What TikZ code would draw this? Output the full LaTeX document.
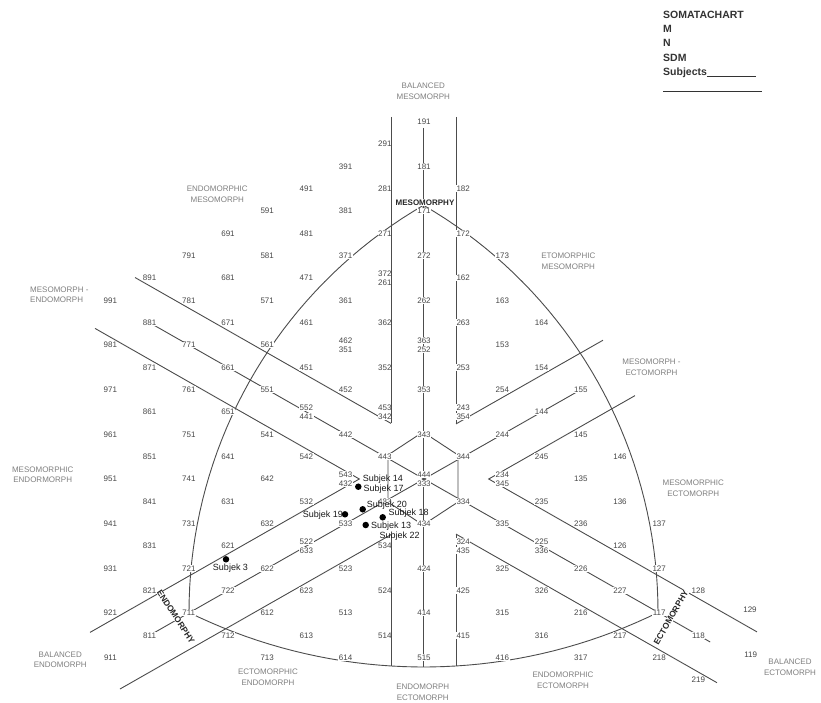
\documentclass[tikz,border=0pt]{standalone}
\usepackage{fontspec}
\setmainfont{Liberation Sans}

\tikzset{
  rating/.style={fill=white, inner sep=0.5pt, text=black!72, font=\fontsize{8}{9}\selectfont},
  cat/.style={align=center, inner sep=0pt, text=black!50, font=\fontsize{8}{10.6}\selectfont},
  morphy/.style={fill=white, inner sep=0.4pt, text=black!85, font=\fontsize{8.5}{9}\selectfont\bfseries},
  subj/.style={inner sep=0pt, text=black!90, font=\fontsize{9}{10}\selectfont},
  subjdot/.style={circle, fill=black, inner sep=0pt, minimum size=6.5pt},
  bandline/.style={line width=0.9pt, draw=black!70},
}

\begin{document}
\begin{tikzpicture}[x=1pt, y=-1pt]
\fill[white] (0,0) rectangle (821,703);
\useasboundingbox (0,0) rectangle (821,703);

% legend
\node[anchor=north west, inner sep=0pt, align=left, text=black!80, font=\fontsize{10.5}{14.2}\selectfont\bfseries] (legend) at (663,11) {SOMATACHART\\M\\N\\SDM\\Subjects\rule[-1.8pt]{49pt}{0.9pt}};
\draw[line width=0.9pt, black!80] (663,91) -- (762,91);

% corners where the bands meet
\coordinate (vtl) at (391,423.4);
\coordinate (vtr) at (456,423.9);
\coordinate (vl) at (359.3,479);
\coordinate (vr) at (488.7,479);
\coordinate (vbl) at (391,534.6);
\coordinate (vbr) at (456,534.1);

% outline
\draw[bandline] plot[domain=180:240, samples=40] ({659+470*cos(\x)},{612+470*sin(\x)});
\draw[bandline] plot[domain=300:360, samples=40] ({188+470*cos(\x)},{612+470*sin(\x)});
\draw[bandline] plot[domain=63.7:116.3, samples=40] ({423.5+531.7*cos(\x)},{135.3+531.7*sin(\x)});

% bands
\draw[bandline] (135,277.5) -- (vtl);
\draw[bandline] (95,328.4) -- (vl) -- (90,632.4);
\draw[bandline] (120,689) -- (vbl);
\draw[bandline] (603,340.2) -- (vtr);
\draw[bandline] (635,395.6) -- (vr) -- (757,631.9);
\draw[bandline] (717,682.7) -- (vbr);
\draw[bandline] (456,117) -- (vtr);
\draw[bandline] (vbr) -- (456,666);
\draw[bandline] (423,432) -- (458,455) -- (458,502) -- (423,525) -- (388,502) -- (388,455) -- cycle;

% centre lines
\draw[bandline] (423,128) -- (423,667);
\draw[bandline] (149.6,322.7) -- (710.2,642);
\draw[bandline] (149.6,635.3) -- (580.8,389.7);

% ratings
\foreach \rt in {191,181,171,272,262,353,343,434,424,414,515,
                 291,281,271,362,352,443,433,534,524,514,
                 182,172,162,263,253,344,334,425,415,
                 391,381,371,361,452,442,533,523,513,614,
                 173,163,153,254,244,335,325,315,416,
                 491,481,471,461,451,542,532,623,613,
                 164,154,144,245,235,326,316,
                 591,581,571,561,551,541,642,632,622,612,713,
                 155,145,135,236,226,216,317,
                 691,681,671,661,651,641,631,621,722,712,
                 146,136,126,227,217,
                 791,781,771,761,751,741,731,721,711,
                 137,127,117,218,
                 891,881,871,861,851,841,831,821,811,
                 128,118,219,
                 991,981,971,961,951,941,931,921,911}{
  \pgfmathtruncatemacro{\endo}{\rt/100}
  \pgfmathtruncatemacro{\meso}{mod(\rt,100)/10}
  \pgfmathtruncatemacro{\ecto}{mod(\rt,10)}
  \node[rating] (n\rt) at ({424+39.2*(\ecto-\endo)},{479-22.33*(2*\meso-\endo-\ecto)}) {\rt};
}
% two ratings on one point
\foreach \ra/\rb in {372/261,462/351,363/252,453/342,552/441,243/354,
                     543/432,444/333,234/345,522/633,324/435,225/336}{
  \pgfmathtruncatemacro{\endo}{\ra/100}
  \pgfmathtruncatemacro{\meso}{mod(\ra,100)/10}
  \pgfmathtruncatemacro{\ecto}{mod(\ra,10)}
  \node[rating] (n\ra) at ({424+39.2*(\ecto-\endo)},{479-22.33*(2*\meso-\endo-\ecto)-4.6}) {\ra};
  \node[rating] (n\rb) at ({424+39.2*(\ecto-\endo)},{479-22.33*(2*\meso-\endo-\ecto)+4.6}) {\rb};
}
\node[rating] (n129) at (750,610) {129};
\node[rating] (n119) at (750.7,655) {119};

\draw[bandline] (391,117) -- (vtl);
\draw[bandline] (vbl) -- (391,666);

\node[morphy, font=\fontsize{8}{9}\selectfont\bfseries] (mesomorphy) at (425,202.7) {MESOMORPHY};
\node[morphy, rotate=-57] (endomorphy) at (175.8,616.7) {ENDOMORPHY};
\node[morphy, rotate=60] (ectomorphy) at (671,617.5) {ECTOMORPHY};

% somatotype names
\node[cat] (balmeso) at (423.3,91) {BALANCED\\MESOMORPH};
\node[cat] (endomeso) at (217.3,194.2) {ENDOMORPHIC\\MESOMORPH};
\node[cat] (ectomeso) at (568.3,261.3) {ETOMORPHIC\\MESOMORPH};
\node[cat, align=left, anchor=west] (mesoendo) at (30,294.7) {MESOMORPH -\\ENDOMORPH};
\node[cat] (mesoecto) at (651.5,367.2) {MESOMORPH -\\ECTOMORPH};
\node[cat] (mesicendo) at (42.7,474.7) {MESOMORPHIC\\ENDORMORPH};
\node[cat] (mesicecto) at (693.3,488) {MESOMORPHIC\\ECTOMORPH};
\node[cat] (balendo) at (60.3,659.7) {BALANCED\\ENDOMORPH};
\node[cat] (ectendo) at (268,677.3) {ECTOMORPHIC\\ENDOMORPH};
\node[cat] (endoecto) at (422.7,692) {ENDOMORPH\\ECTOMORPH};
\node[cat] (endicecto) at (563,680.5) {ENDOMORPHIC\\ECTOMORPH};
\node[cat] (balecto) at (790,667) {BALANCED\\ECTOMORPH};

% subjects
\node[subjdot] (s14) at (358.3,486.7) {};
\node[subjdot] (s20) at (362.7,509.3) {};
\node[subjdot] (s19) at (345,514.3) {};
\node[subjdot] (s18) at (382.7,517.3) {};
\node[subjdot] (s13) at (365.7,525) {};
\node[subjdot] (s3) at (226,559.3) {};
\node[subj, anchor=west] (l14) at (362.7,479.3) {Subjek 14};
\node[subj, anchor=west] (l17) at (363.3,489.3) {Subjek 17};
\node[subj, anchor=west] (l20) at (366.7,505) {Subjek 20};
\node[subj, anchor=east] (l19) at (343,515) {Subjek 19};
\node[subj, anchor=west] (l18) at (388.3,513.3) {Subjek 18};
\node[subj, anchor=west] (l13) at (371,526) {Subjek 13};
\node[subj, anchor=west] (l22) at (379.5,536.2) {Subjek 22};
\node[subj] (l3) at (230.5,568.3) {Subjek 3};
\end{tikzpicture}
\end{document}
